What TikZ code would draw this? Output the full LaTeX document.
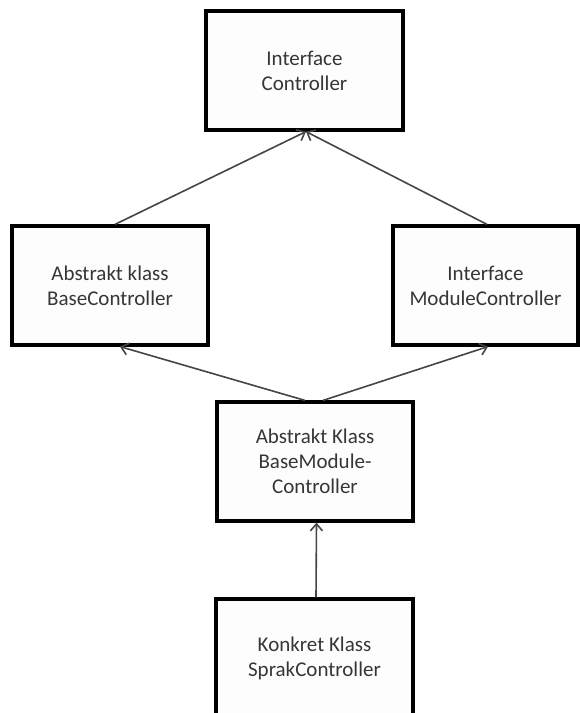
\documentclass[tikz,border=0pt]{standalone}
\usepackage{fontspec}
\setmainfont{Carlito}
\usetikzlibrary{arrows.meta}
\definecolor{inktext}{HTML}{363636}
\definecolor{inkline}{HTML}{454545}
\definecolor{boxfill}{HTML}{FDFDFD}
\tikzset{
  classbox/.style={draw=black, line width=3.2pt, fill=boxfill, rectangle,
    minimum height=119pt, inner sep=0pt, align=center, text=inktext,
    font=\fontsize{21pt}{25pt}\selectfont},
  inherit/.style={draw=inkline, line width=1.6pt,
    -{Straight Barb[length=7pt,width=12pt,line width=1.6pt]}}
}
\begin{document}
\begin{tikzpicture}[x=1pt,y=-1pt]
  \useasboundingbox (0,0) rectangle (580,713);
  \clip (0,0) rectangle (580,713);

  % class boxes
  \node[classbox, minimum width=197pt] (ctrl) at (304.5,70.5) {Interface\\Controller};
  \node[classbox, minimum width=196pt] (base) at (110,285.5) {Abstrakt klass\\BaseController};
  \node[classbox, minimum width=185pt] (modif) at (485.5,285.5) {Interface\\ModuleController};
  \node[classbox, minimum width=196pt] (basemod) at (315,461.5) {Abstrakt Klass\\BaseModule-\\Controller};
  \node[classbox, minimum width=197pt] (sprak) at (314.5,658.5) {Konkret Klass\\SprakController};

  % inheritance arrows
  \draw[inherit] ([xshift=5pt]base.north) -- ([xshift=1.5pt]ctrl.south);
  \draw[inherit] ([xshift=1.5pt]modif.north) -- ([xshift=1.5pt]ctrl.south);
  \draw[inherit] ([xshift=-10pt]basemod.north) -- ([xshift=10pt]base.south);
  \draw[inherit] ([xshift=8pt]basemod.north) -- ([xshift=2.5pt]modif.south);
  \draw[inherit] ([xshift=1.5pt]sprak.north) -- ([xshift=1.5pt]basemod.south);
\end{tikzpicture}
\end{document}
